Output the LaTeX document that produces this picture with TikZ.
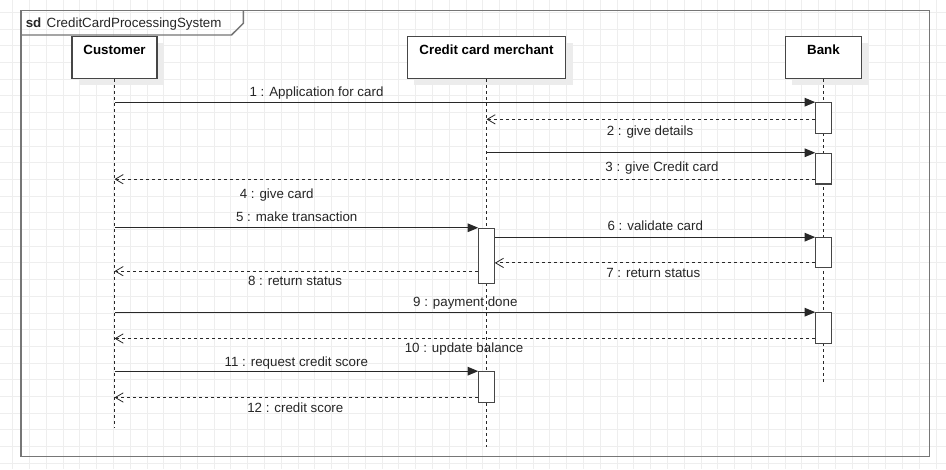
\documentclass[tikz,border=0pt]{standalone}
\usepackage{fontspec}
\setmainfont{Liberation Sans}
\usepackage{tikz}
\usetikzlibrary{arrows.meta, positioning, calc, fit}
\definecolor{gridgray}{RGB}{238, 238, 238}
\definecolor{framegray}{RGB}{118, 118, 118}
\definecolor{linegray}{RGB}{40, 40, 40}
\definecolor{boxgray}{RGB}{70, 70, 70}
\definecolor{shadowgray}{RGB}{236, 236, 236}

\begin{document}
\begin{tikzpicture}[x=0.75pt, y=-0.75pt, font=\fontsize{10}{12}\selectfont,
    head/.style={draw=boxgray, line width=1pt, fill=white, anchor=north, inner sep=3pt,
        minimum height=31.5pt, text height=10.5pt, text depth=15pt,
        font=\fontsize{10}{12}\selectfont\bfseries,
        preaction={fill=shadowgray, draw=none, transform canvas={shift={(5.25pt,-5.25pt)}}}},
    act/.style={draw=boxgray, line width=0.8pt, fill=white, inner sep=0pt, minimum width=11.6pt},
    life/.style={draw=linegray, line width=0.75pt, dash pattern=on 2.25pt off 2.25pt},
    call/.style={draw=linegray, line width=0.75pt, -{Triangle[length=8pt, width=6.5pt]}},
    reply/.style={draw=linegray, line width=0.75pt, dash pattern=on 2.25pt off 2.25pt,
        -{Straight Barb[length=6pt, width=7pt, line width=0.6pt]}},
    lbl/.style={text=black!85, inner sep=0pt, text height=8pt, text depth=1.5pt}]

    % page and grid
    \useasboundingbox (0,0) rectangle (946,469);
    \fill[white] (0,0) rectangle (946,469);
    \foreach \i in {0,...,55}
        \draw[gridgray, line width=0.75pt] (12.7+16.79*\i,0) -- (12.7+16.79*\i,469);
    \foreach \j in {0,...,27}
        \draw[gridgray, line width=0.75pt] (0,12.4+16.7*\j) -- (946,12.4+16.7*\j);

    % sd frame
    \draw[framegray, line width=1.1pt] (21,10.7) rectangle (929.3,456.7);
    \draw[framegray, line width=1.1pt] (21,35) -- (231.5,35) -- (243.3,23.3) -- (243.3,10.7);
    \node[lbl, anchor=west] (title) at (25.5,22.7) {\textbf{sd}\hspace{4pt}CreditCardProcessingSystem};

    % lifeline heads
    \node[head, minimum width=63.75pt] (cust) at (114.5,35.7) {Customer};
    \node[head, minimum width=118.8pt] (merch) at (486.5,35.7) {Credit card merchant};
    \node[head, minimum width=57.3pt] (bank) at (823.5,35.7) {Bank};

    % lifelines
    \coordinate (custend) at (114.5,428.3);
    \coordinate (merchend) at (486.5,446.7);
    \coordinate (bankend) at (823.5,384);
    \draw[life] (cust.south) -- (custend);
    \draw[life] (merch.south) -- (merchend);
    \draw[life] (bank.south) -- (bankend);

    % activations
    \node[act, fit={(823.5,102.7) (823.5,133.3)}] (b1) {};
    \node[act, fit={(823.5,153.3) (823.5,184)}] (b2) {};
    \node[act, fit={(823.5,237.7) (823.5,267.7)}] (b3) {};
    \node[act, fit={(823.5,312.7) (823.5,343.3)}] (b4) {};
    \node[act, fit={(486.5,228.3) (486.5,283.3)}] (m1) {};
    \node[act, fit={(486.5,371.7) (486.5,402.3)}] (m2) {};

    % return points
    \coordinate (r2) at ([yshift=-1pt]b1.west);
    \coordinate (r4) at ([yshift=4pt]b2.south west);
    \coordinate (r7) at ([yshift=4pt]b3.south west);
    \coordinate (r8) at ([yshift=9.5pt]m1.south west);
    \coordinate (r10) at ([yshift=4pt]b4.south west);
    \coordinate (r12) at ([yshift=4pt]m2.south west);

    % messages
    \draw[call] (cust |- b1.north) -- (b1.north west);
    \draw[reply] (r2) -- (merch |- r2);
    \draw[call] (merch |- b2.north) -- (b2.north west);
    \draw[reply] (r4) -- (cust |- r4);
    \draw[call] (cust |- m1.north) -- (m1.north west);
    \draw[call] (m1.east |- b3.north) -- (b3.north west);
    \draw[reply] (r7) -- (m1.east |- r7);
    \draw[reply] (r8) -- (cust |- r8);
    \draw[call] (cust |- b4.north) -- (b4.north west);
    \draw[reply] (r10) -- (cust |- r10);
    \draw[call] (cust |- m2.north) -- (m2.north west);
    \draw[reply] (r12) -- (cust |- r12);

    % message labels
    \node[lbl] (l1) at (316.5,91.7) {1 : Application for card};
    \node[lbl] (l2) at (650,130.7) {2 : give details};
    \node[lbl] (l3) at (662,167.3) {3 : give Credit card};
    \node[lbl] (l4) at (276.7,194) {4 : give card};
    \node[lbl] (l5) at (296.7,217.3) {5 : make transaction};
    \node[lbl] (l6) at (655.3,226) {6 : validate card};
    \node[lbl] (l7) at (653.3,273.3) {7 : return status};
    \node[lbl] (l8) at (295,281) {8 : return status};
    \node[lbl] (l9) at (465.3,302.3) {9 : payment done};
    \node[lbl] (l10) at (464,348.3) {10 : update balance};
    \node[lbl] (l11) at (296.3,361.7) {11 : request credit score};
    \node[lbl] (l12) at (295.3,407.7) {12 : credit score};
\end{tikzpicture}
\end{document}
